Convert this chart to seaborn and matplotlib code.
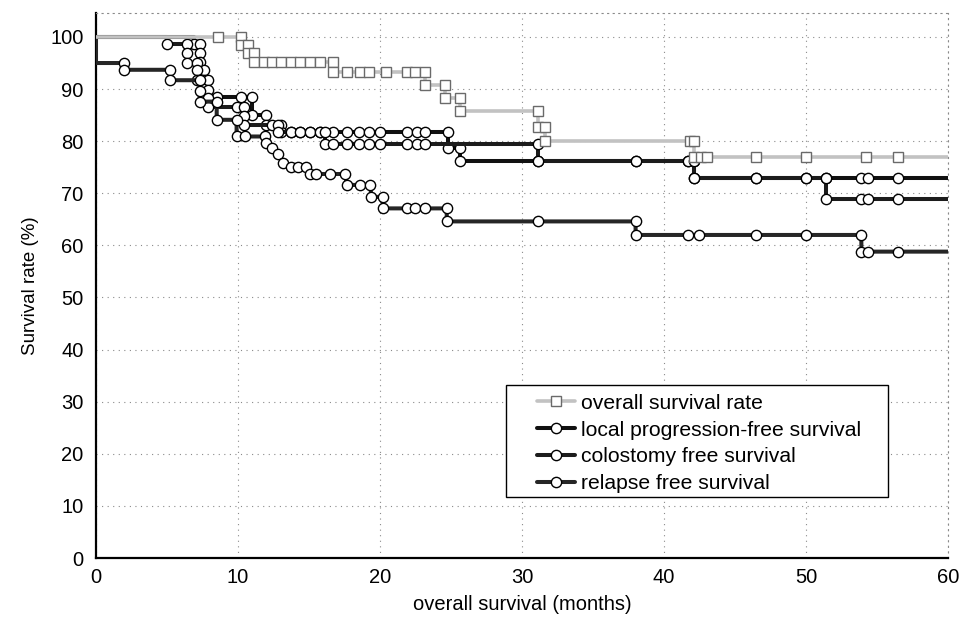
import numpy as np
import pandas as pd
import seaborn as sns
import matplotlib.pyplot as plt
from matplotlib.lines import Line2D
from matplotlib.patches import Rectangle

# Kaplan-Meier style curves (months, %)
# each list is the polyline as drawn: a drop is two points with the same month
months_overall = [0, 8.6, 10.2, 10.2, 10.7, 10.7, 11.1, 11.1, 11.8, 12.4, 13.0, 13.7, 14.4, 15.1, 15.8,
                  16.7, 16.7, 17.7, 18.6, 19.2, 20.4, 21.9, 22.5, 23.2, 23.2, 24.6, 24.6, 25.6, 25.6,
                  31.1, 31.1, 31.6, 31.6, 41.8, 42.1, 42.1, 42.6, 43.0, 46.5, 50.0, 54.2, 56.5, 60]
surv_overall = [100, 100, 100, 98.5, 98.5, 96.9, 96.9, 95.1, 95.1, 95.1, 95.1, 95.1, 95.1, 95.1, 95.1,
                95.1, 93.3, 93.3, 93.3, 93.3, 93.3, 93.3, 93.3, 93.3, 90.8, 90.8, 88.2, 88.2, 85.7,
                85.7, 82.8, 82.8, 80.1, 80.1, 80.1, 77.0, 77.0, 77.0, 77.0, 77.0, 77.0, 77.0, 77.0]

months_local = [0, 6.9, 6.9, 7.3, 7.3, 7.3, 7.3, 7.6, 7.6, 7.6, 7.6, 8.5, 10.2, 11.0, 11.0, 12.0, 12.0,
                13.0, 13.0, 13.7, 14.4, 15.1, 15.8, 16.7, 17.7, 18.5, 19.2, 20.0, 21.9, 22.6, 23.2,
                24.8, 24.8, 25.6, 25.6, 31.1, 38.0, 41.7, 42.1, 42.1, 46.5, 50.0, 51.4, 53.9, 54.4, 56.5, 60]
surv_local = [100, 100, 98.6, 98.6, 96.9, 95.2, 93.7, 93.7, 91.7, 90.1, 88.4, 88.4, 88.4, 88.4, 85.0,
              85.0, 83.1, 83.1, 81.8, 81.8, 81.8, 81.8, 81.8, 81.8, 81.8, 81.8, 81.8, 81.8, 81.8,
              81.8, 81.8, 81.8, 78.7, 78.7, 76.1, 76.1, 76.1, 76.1, 76.1, 72.9, 72.9, 72.9, 72.9,
              72.9, 72.9, 72.9, 72.9]

months_colost = [0, 5.0, 5.0, 6.4, 6.4, 6.4, 7.1, 7.1, 7.1, 7.9, 7.9, 7.9, 7.9, 9.9, 10.4, 10.4, 10.4,
                 12.4, 12.8, 12.8, 13.7, 14.4, 15.1, 15.8, 16.1, 16.1, 16.7, 17.7, 18.5, 19.2, 20.0,
                 21.9, 22.6, 23.2, 31.1, 31.1, 38.0, 41.7, 42.1, 42.1, 46.5, 50.0, 51.4, 51.4, 53.9,
                 54.4, 56.5, 60]
surv_colost = [100, 100, 98.6, 98.6, 96.9, 95.0, 95.0, 93.7, 91.7, 91.7, 89.9, 88.2, 86.5, 86.5, 86.5,
               84.8, 83.1, 83.1, 83.1, 81.8, 81.8, 81.8, 81.8, 81.8, 81.8, 79.5, 79.5, 79.5, 79.5,
               79.5, 79.5, 79.5, 79.5, 79.5, 79.5, 76.1, 76.1, 76.1, 76.1, 72.9, 72.9, 72.9, 72.9,
               68.9, 68.9, 68.9, 68.9, 68.9]

months_relapse = [0, 0, 2.0, 2.0, 5.2, 5.2, 7.3, 7.3, 7.3, 8.5, 8.5, 9.9, 9.9, 10.5, 11.9, 12.0, 12.4,
                  12.8, 13.2, 13.7, 14.2, 14.8, 15.1, 15.5, 16.5, 17.5, 17.7, 18.6, 19.3, 19.4, 20.2,
                  20.2, 21.9, 22.5, 23.2, 24.7, 24.7, 31.1, 38.0, 38.0, 41.7, 42.5, 46.5, 50.0, 53.9,
                  53.9, 54.4, 56.5, 60]
surv_relapse = [100, 95, 95, 93.7, 93.7, 91.7, 91.7, 89.6, 87.6, 87.6, 84.1, 84.1, 80.9, 80.9, 80.9,
                79.6, 78.6, 77.5, 75.8, 75.1, 75.1, 75.1, 73.7, 73.7, 73.7, 73.7, 71.6, 71.6, 71.6,
                69.3, 69.3, 67.1, 67.1, 67.1, 67.1, 67.1, 64.6, 64.6, 64.6, 62.0, 62.0, 62.0, 62.0,
                62.0, 62.0, 58.8, 58.8, 58.8, 58.8]

labels = ["overall survival rate", "local progression-free survival",
          "colostomy free survival", "relapse free survival"]

sns.set_theme(style="white")
plt.rcParams['font.family'] = ['Liberation Sans', 'DejaVu Sans']
plt.rcParams['text.color'] = 'black'

fig = plt.figure(figsize=(9.63, 6.25), dpi=100)
ax = fig.add_axes([0.0997, 0.1072, 0.8847, 0.8720])


def marks(t, v, keep_top):
    # points that carry a marker (not the start, not the end at 60, not hidden at 100)
    return [i for i in range(len(t)) if 0 < t[i] < 60 and (keep_top or v[i] < 100)]


grey = '#c2c2c2'

# overall survival: light grey line, open squares (drawn over the 100 % part of the others)
sns.lineplot(x=months_overall, y=surv_overall, estimator=None, sort=False, ax=ax,
             color=grey, linewidth=2.6,
             marker='s', markevery=marks(months_overall, surv_overall, True),
             markersize=7.5, markerfacecolor='white', markeredgecolor='#6a6a6a',
             markeredgewidth=1.0, zorder=4)

circle_series = [(months_local, surv_local, '#111111'),
                 (months_colost, surv_colost, '#1c1c1c'),
                 (months_relapse, surv_relapse, '#262626')]
for t, v, c in circle_series:
    sns.lineplot(x=t, y=v, estimator=None, sort=False, ax=ax, color=c, linewidth=2.9,
                 marker='o', markevery=marks(t, v, False), markersize=7.4,
                 markerfacecolor='white', markeredgecolor='black', markeredgewidth=1.0,
                 zorder=3)

ax.set_xlim(0, 60)
ax.set_ylim(0, 104.6)
ax.set_xticks(np.arange(0, 61, 10))
ax.set_yticks(np.arange(0, 101, 10))
ax.tick_params(axis='both', length=0, labelsize=14.5, colors='black')
ax.tick_params(axis='x', pad=7)
ax.tick_params(axis='y', pad=9)

ax.grid(True, color='#8a8a8a', linestyle=(0, (1, 4)), linewidth=0.8)
ax.set_axisbelow(True)
for side in ['left', 'bottom']:
    ax.spines[side].set_color('black')
    ax.spines[side].set_linewidth(1.6)
for side in ['top', 'right']:
    ax.spines[side].set_color('#8a8a8a')
    ax.spines[side].set_linestyle((0, (1, 4)))
    ax.spines[side].set_linewidth(0.8)

ax.set_xlabel("overall survival (months)", fontsize=14.5, labelpad=6, color='black')
ax.set_ylabel("Survival rate (%)", fontsize=13.5, labelpad=8, color='black')

# legend box: wide inner margins, so the frame is drawn separately
ax.add_patch(Rectangle((0.4812, 0.1119), 0.4484, 0.2055, transform=ax.transAxes,
                       facecolor='white', edgecolor='black', linewidth=1.0, zorder=5))
handles = [Line2D([], [], color=grey, lw=2.6, marker='s', ms=7.5,
                  mfc='white', mec='#6a6a6a', mew=1.0)]
for _, _, c in circle_series:
    handles.append(Line2D([], [], color=c, lw=2.9, marker='o', ms=7.4, mfc='white',
                          mec='black', mew=1.0))
leg = ax.legend(handles, labels, loc='upper left', bbox_to_anchor=(0.5176, 0.3012),
                borderaxespad=0, borderpad=0, fontsize=15.2, frameon=False,
                handlelength=1.8, handletextpad=0.3, labelspacing=0.37)
for txt in leg.get_texts():
    txt.set_color('black')
leg.set_zorder(6)

plt.savefig("out.png", dpi=100)
